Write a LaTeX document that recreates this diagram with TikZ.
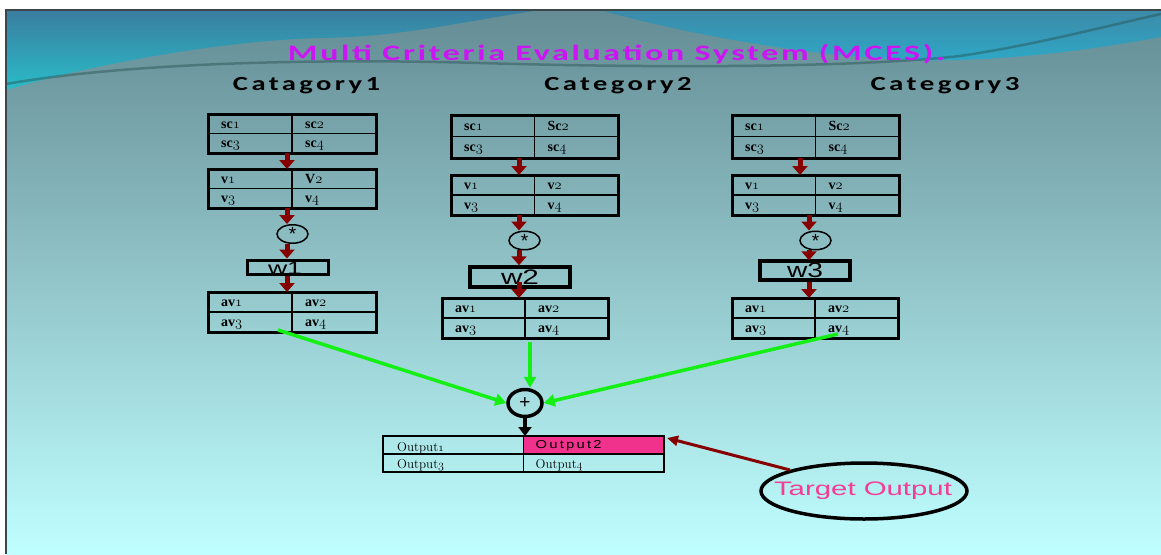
\documentclass[tikz,border=0pt]{standalone}
\usepackage{fontspec}
\usepackage{graphicx}
\usetikzlibrary{shapes.geometric,arrows.meta,calc}
\newfontfamily\carl{Carlito}
\newfontfamily\arl{Liberation Sans}
\newfontfamily\lser{Liberation Serif}
\definecolor{dred}{RGB}{135,0,0}
\definecolor{grn}{RGB}{20,240,20}
\definecolor{mag}{RGB}{205,20,245}
\definecolor{hpink}{RGB}{240,50,140}
\definecolor{tpink}{RGB}{245,60,150}
\definecolor{slidetop}{RGB}{100,140,148}
\definecolor{slidebot}{RGB}{192,255,255}
\definecolor{blA}{RGB}{58,125,160}
\definecolor{blB}{RGB}{42,188,200}
\definecolor{blC}{RGB}{60,138,168}
\definecolor{blD}{RGB}{45,170,200}
\definecolor{darkline}{RGB}{40,80,80}
\definecolor{slideedge}{RGB}{60,70,75}
\newcommand\osn[1]{{\fontencoding{OML}\fontfamily{lmm}\fontseries{b}\fontshape{it}\selectfont #1}}
\newcommand\osr[1]{{\fontencoding{OML}\fontfamily{lmm}\fontseries{m}\fontshape{it}\selectfont #1}}
\tikzset{
  tnode/.style={inner sep=0pt, outer sep=0pt},
  tabout/.style={draw=black, line width=3pt},
  tabin/.style={draw=black, line width=1.5pt},
  cell/.style={anchor=base west, inner sep=0pt, font=\lser\bfseries\fontsize{14}{14}\selectfont},
  ocell/.style={anchor=base west, inner sep=0pt, font=\fontsize{13}{13}\selectfont},
  starc/.style={ellipse, draw=black, line width=1.5pt, minimum width=31pt, minimum height=18pt, inner sep=0pt, font=\arl\fontsize{19}{19}\selectfont},
  wbox/.style={draw=black, line width=3.5pt, inner sep=0pt},
  rarr/.style={draw=dred, line width=5pt, -{Triangle[length=9pt,width=15pt]}},
  garr/.style={draw=grn, line width=3.5pt, -{Triangle[length=11pt,width=12pt]}},
  barr/.style={draw=black, line width=3.5pt, -{Triangle[length=9pt,width=13pt]}},
  tarr/.style={draw=dred, line width=3pt, -{Triangle[length=11pt,width=10pt]}},
  cat/.style={anchor=base, text=black, font=\carl\bfseries\fontsize{20}{20}\selectfont},
}
\newcommand\gtab[8]{%
  \node[tnode, minimum width=#3, minimum height=#4] (#1) at (#2) {};
  \draw[tabin] (#1.north) -- (#1.south) (#1.west) -- (#1.east);
  \draw[tabout] (#1.north west) rectangle (#1.south east);
  \node[cell] (#1-a) at ($(#1.north west)!0.25!(#1.south west)+(13,4.5)$) {#5};
  \node[cell] (#1-b) at ($(#1.north)!0.25!(#1.south)+(13,4.5)$) {#6};
  \node[cell] (#1-c) at ($(#1.north west)!0.75!(#1.south west)+(13,4.5)$) {#7};
  \node[cell] (#1-d) at ($(#1.north)!0.75!(#1.south)+(13,4.5)$) {#8};
}
\begin{document}
\begin{tikzpicture}[x=1pt,y=-1pt]
\useasboundingbox (0,0) rectangle (1161,554);
\fill[white] (0,0) rectangle (1161,554);
% slide background
\shade[top color=slidetop, bottom color=slidebot] (6,10) rectangle (1161,554);
\shade[top color=blA, bottom color=blB] (6,10) -- (540,10) .. controls (460,22) and (400,37) .. (322,38) .. controls (230,40) and (100,62) .. (6,90) -- cycle;
\shade[top color=blC, bottom color=blD] (600,10) -- (1161,10) -- (1161,37) .. controls (1100,48) and (1040,57) .. (960,60) .. controls (850,64) and (700,38) .. (600,10) -- cycle;
\draw[line width=2.5pt, color=darkline, opacity=0.45] (6,84) .. controls (120,64) and (300,58) .. (480,63) .. controls (650,68) and (850,68) .. (960,56) .. controls (1040,44) and (1110,25) .. (1161,14);
\draw[slideedge, line width=1.5pt] (6,554) -- (6,10) -- (1161,10);
% titles
\node[anchor=base, text=mag, font=\carl\bfseries\fontsize{22}{22}\selectfont] (title) at (616.5,60) {\resizebox{657pt}{\height}{\addfontfeatures{LetterSpace=8}Multi Criteria Evaluation System (MCES).}};
\node[cat] (cat1) at (306.5,90) {\resizebox{147pt}{\height}{\addfontfeatures{LetterSpace=12}Catagory1}};
\node[cat] (cat2) at (618,90) {\resizebox{147pt}{\height}{\addfontfeatures{LetterSpace=12}Category2}};
\node[cat] (cat3) at (945,90) {\resizebox{149pt}{\height}{\addfontfeatures{LetterSpace=12}Category3}};
% column 1
\coordinate (xa1) at (287,0);
\gtab{c1a}{292,133.5}{168pt}{39pt}{sc\osn{1}}{sc\osn{2}}{sc\osn{3}}{sc\osn{4}}
\gtab{c1b}{292,188.5}{168pt}{39pt}{v\osn{1}}{V\osn{2}}{v\osn{3}}{v\osn{4}}
\node[starc] (st1) at (292.5,234) {*};
\node[inner sep=0pt, font=\arl\fontsize{18}{18}\selectfont] (w1t) at (285,268) {\resizebox{34pt}{\height}{w1}};
\node[wbox, line width=3pt, minimum width=81pt, minimum height=14pt] (w1) at (287.5,267) {};
\gtab{c1c}{292,312}{168pt}{40pt}{av\osn{1}}{av\osn{2}}{av\osn{3}}{av\osn{4}}
\draw[rarr] (c1a.south -| xa1) -- (c1b.north -| xa1);
\draw[rarr] (c1b.south -| xa1) -- (st1.north -| xa1);
\draw[rarr] (st1.south -| xa1) -- (w1.north -| xa1);
\draw[rarr] (w1.south -| xa1) -- (c1c.north -| xa1);
% column 2
\coordinate (xa2) at (519,0);
\gtab{c2a}{534.5,136.5}{167pt}{43pt}{sc\osn{1}}{Sc\osn{2}}{sc\osn{3}}{sc\osn{4}}
\gtab{c2b}{534.5,195}{167pt}{40pt}{v\osn{1}}{v\osn{2}}{v\osn{3}}{v\osn{4}}
\node[starc] (st2) at (524.5,240.5) {*};
\node[wbox, minimum width=100pt, minimum height=20pt, font=\arl\fontsize{21}{21}\selectfont] (w2) at (520,277) {\resizebox{38pt}{\height}{w2}};
\gtab{c2c}{525,318}{166pt}{40pt}{av\osn{1}}{av\osn{2}}{av\osn{3}}{av\osn{4}}
\draw[rarr] (c2a.south -| xa2) -- (c2b.north -| xa2);
\draw[rarr] (c2b.south -| xa2) -- (st2.north -| xa2);
\draw[rarr] (st2.south -| xa2) -- (w2.north -| xa2);
\draw[rarr] ([yshift=7pt]w2.south -| xa2) -- (c2c.north -| xa2);
% column 3
\coordinate (xa3) at (800,0);
\coordinate (xb3) at (809,0);
\gtab{c3a}{815.5,136.5}{167pt}{43pt}{sc\osn{1}}{Sc\osn{2}}{sc\osn{3}}{sc\osn{4}}
\gtab{c3b}{815.5,195}{167pt}{40pt}{v\osn{1}}{v\osn{2}}{v\osn{3}}{v\osn{4}}
\node[starc] (st3) at (815.5,240.5) {*};
\node[wbox, minimum width=90pt, minimum height=19pt, font=\arl\fontsize{21}{21}\selectfont] (w3) at (805,270.5) {\resizebox{36pt}{\height}{w3}};
\gtab{c3c}{815,318}{166pt}{40pt}{av\osn{1}}{av\osn{2}}{av\osn{3}}{av\osn{4}}
\draw[rarr] (c3a.south -| xa3) -- (c3b.north -| xa3);
\draw[rarr] (c3b.south -| xb3) -- (st3.north -| xb3);
\draw[rarr] (st3.south -| xb3) -- ([yshift=-1pt]w3.north -| xb3);
\draw[rarr] (w3.south -| xb3) -- (c3c.north -| xb3);
% sum
\node[ellipse, draw=black, line width=3.5pt, minimum width=34pt, minimum height=27pt, inner sep=0pt, font=\arl\fontsize{19}{19}\selectfont] (plus) at (525,403) {+};
\draw[garr] ([xshift=-14pt,yshift=2pt]c1c.south) -- (plus.west);
\draw[garr] ([xshift=5pt,yshift=-4pt]c2c.south) -- ([xshift=5pt]plus.north);
\draw[garr] ([xshift=23pt,yshift=4pt]c3c.south) -- (plus.east);
% output table
\node[tnode, minimum width=281pt, minimum height=36pt] (out) at (523.5,454) {};
\fill[hpink] (out.north) rectangle (out.east);
\draw[tabin] (out.north) -- (out.south) (out.west) -- (out.east);
\draw[tabout, line width=2.5pt] (out.north west) rectangle (out.south east);
\node[ocell] (o1) at ($(out.north west)+(14,15)$) {Output\osr{1}};
\node[ocell, font=\arl\fontsize{11.5}{11.5}\selectfont] (o2) at ($(out.north)+(12,12.5)$) {\resizebox{66pt}{\height}{\addfontfeatures{LetterSpace=15}Output2}};
\node[ocell] (o3) at ($(out.west)+(14,14)$) {Output\osr{3}};
\node[ocell] (o4) at ($(out.center)+(12,14)$) {Output\osr{4}};
\draw[barr] (plus.south) -- (plus.south |- out.north);
% target
\node[ellipse, draw=black, line width=3.5pt, minimum width=206pt, minimum height=56pt, inner sep=0pt] (tgt) at (864,491) {};
\node[inner sep=0pt, text=tpink, font=\arl\fontsize{19.5}{19.5}\selectfont] (tgtl) at (863,491) {\resizebox{178pt}{\height}{Target Output}};
\draw[tarr] (tgt.north west) -- ([xshift=3pt,yshift=-2pt]out.north east);
\end{tikzpicture}
\end{document}
